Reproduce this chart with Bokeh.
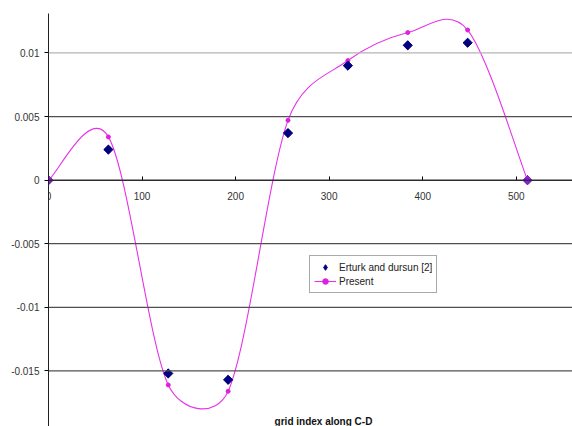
import math
from bokeh.plotting import figure
from bokeh.models import Range1d, Span, Legend, LegendItem, Label, FixedTicker
from bokeh.embed import file_html
from bokeh.resources import INLINE

# ---- data ----
grid_index = [0, 64, 128, 192, 256, 320, 384, 448, 512]
erturk = [0.0, 0.0024, -0.0152, -0.0157, 0.0037, 0.0090, 0.0106, 0.0108, 0.0]
present = [0.0, 0.0034, -0.0161, -0.0166, 0.0047, 0.0094, 0.0116, 0.0118, 0.0]
x_ticks = [0, 100, 200, 300, 400, 500]
y_ticks = [-0.015, -0.01, -0.005, 0, 0.005, 0.01]
y_tick_labels = {-0.015: "-0.015", -0.01: "-0.01", -0.005: "-0.005", 0: "0",
                 0.005: "0.005", 0.01: "0.01"}
grid_colors = {-0.015: "#505050", -0.01: "#505050", -0.005: "#505050", 0: "#303030",
               0.005: "#505050", 0.01: "#b4b4b4"}
series_names = ["Erturk and dursun [2]", "Present"]
x_title = "grid index along C-D"
y_title = "v-velocity"

# ---- layout ----
W, H = 572, 426
BL, BT, BR, BB = 48, 13, 0, 0
X0, X1 = 0, 560.1
Y0, Y1 = -0.01937, 0.0131
FONT = "Liberation Sans"

p = figure(width=W, height=H, output_backend="svg", toolbar_location=None,
           x_range=Range1d(X0, X1), y_range=Range1d(Y0, Y1),
           min_border_left=BL, min_border_top=BT, min_border_right=BR,
           min_border_bottom=BB)
p.outline_line_color = None
p.xgrid.visible = False
p.ygrid.visible = False
p.background_fill_color = "white"
p.border_fill_color = "white"

for v in y_ticks:
    p.add_layout(Span(location=v, dimension="width", line_color=grid_colors[v],
                      line_width=1.3))

# x axis crossing at y = 0
xa = p.xaxis[0]
xa.fixed_location = 0
xa.ticker = FixedTicker(ticks=x_ticks)
xa.axis_line_color = "#202020"
xa.major_tick_in = 4
xa.major_tick_out = 0
xa.minor_tick_line_color = None
xa.major_label_standoff = 12
xa.major_label_text_font = FONT
xa.major_label_text_font_size = "10px"
xa.major_label_text_color = "#333333"

ya = p.yaxis[0]
ya.ticker = FixedTicker(ticks=y_ticks)
ya.major_label_overrides = y_tick_labels
ya.axis_line_color = "#202020"
ya.major_tick_in = 0
ya.major_tick_out = 4
ya.minor_tick_line_color = None
ya.major_label_standoff = 5
ya.major_label_text_font = FONT
ya.major_label_text_font_size = "10px"
ya.major_label_text_color = "#333333"

# ---- smoothed line (Excel-like Bezier through the data points) ----
fw = W - BL - BR
fh = H - BT - BB
sx = fw / (X1 - X0)
sy = fh / (Y1 - Y0)
n = len(grid_index)
pts = [(grid_index[i] * sx, present[i] * sy) for i in range(n)]
tang = []
for i in range(n):
    a = pts[max(i - 1, 0)]
    b = pts[min(i + 1, n - 1)]
    tang.append(((b[0] - a[0]) / 6.0, (b[1] - a[1]) / 6.0))

bx0, by0, bx1, by1, cx0, cy0, cx1, cy1 = [], [], [], [], [], [], [], []
for i in range(n - 1):
    pa, pb = pts[i], pts[i + 1]
    seg = math.hypot(pb[0] - pa[0], pb[1] - pa[1])
    lim = 0.5 * seg
    ta = tang[i]
    tb = tang[i + 1]
    la = math.hypot(*ta)
    lb = math.hypot(*tb)
    fa = min(1.0, lim / la) if la > 0 else 1.0
    fb = min(1.0, lim / lb) if lb > 0 else 1.0
    c1 = (pa[0] + ta[0] * fa, pa[1] + ta[1] * fa)
    c2 = (pb[0] - tb[0] * fb, pb[1] - tb[1] * fb)
    bx0.append(grid_index[i]); by0.append(present[i])
    bx1.append(grid_index[i + 1]); by1.append(present[i + 1])
    cx0.append(c1[0] / sx); cy0.append(c1[1] / sy)
    cx1.append(c2[0] / sx); cy1.append(c2[1] / sy)

MAG = "#e832e8"
NAVY = "#000080"
line_r = p.bezier(x0=bx0, y0=by0, x1=bx1, y1=by1, cx0=cx0, cy0=cy0, cx1=cx1, cy1=cy1,
                  line_color=MAG, line_width=1.1)
dots_r = p.scatter(grid_index, present, marker="circle", size=4,
                   fill_color="#e020e0", line_color="#e020e0")
# diamond-shaped key marker for the legend (hidden beneath the data markers)
key_r = p.scatter(grid_index, erturk, marker="diamond", size=8,
                  fill_color=NAVY, line_color=NAVY)
diam_r = p.scatter(grid_index, erturk, marker="square", angle=math.pi / 4, size=6.5,
                   fill_color=NAVY, line_color=NAVY)
# endpoint markers look purple where both series overlap
p.scatter([grid_index[0], grid_index[-1]], [present[0], present[-1]], marker="square",
          angle=math.pi / 4, size=6.5, fill_color="#8a20d8", line_color="#8a20d8")

legend = Legend(items=[LegendItem(label=series_names[0], renderers=[key_r]),
                       LegendItem(label=series_names[1], renderers=[line_r, dots_r])],
                location=(261, 133))
legend.label_text_font = FONT
legend.label_text_font_size = "10px"
legend.label_text_color = "#222222"
legend.border_line_color = "#555555"
legend.border_line_width = 1
legend.background_fill_color = "white"
legend.background_fill_alpha = 1
legend.padding = 4
legend.spacing = 0
legend.margin = 0
legend.glyph_width = 22
legend.glyph_height = 14
legend.label_height = 14
legend.label_standoff = 3
p.add_layout(legend, "center")

p.add_layout(Label(x=275, y=0, x_units="screen", y_units="screen", text=x_title,
                   text_font=FONT, text_font_size="10px", text_font_style="bold",
                   text_color="#111111", text_align="center", text_baseline="bottom"))
p.add_layout(Label(x=-35, y=218, x_units="screen", y_units="screen", text=y_title,
                   angle=math.pi / 2, text_font=FONT, text_font_size="10px",
                   text_font_style="bold", text_color="#111111",
                   text_align="center", text_baseline="middle"))

open("out.html", "w").write(file_html(p, INLINE))
